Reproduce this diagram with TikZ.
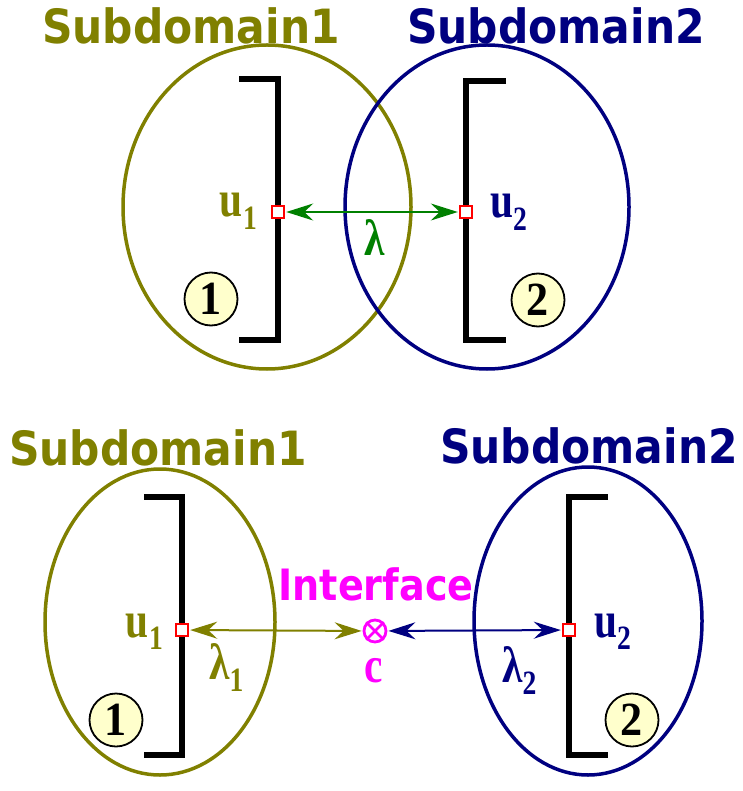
\documentclass[tikz,border=0pt]{standalone}
\usepackage{fontspec}
\usetikzlibrary{arrows.meta}
\newfontfamily\headfont{DejaVu Sans}
\newfontfamily\serifb{Liberation Serif}
\definecolor{olivec}{HTML}{808000}
\definecolor{navyc}{HTML}{000080}
\definecolor{greenc}{HTML}{008000}
\definecolor{magc}{HTML}{FF00FF}
\definecolor{yelc}{HTML}{FFFFCC}
\tikzset{
  head/.style={inner sep=0},
  lab/.style={inner sep=0},
  dom/.style={line width=3.5pt},
  brk/.style={line width=5.5pt, black},
  port/.style={draw=red, fill=white, rectangle, minimum size=12pt, inner sep=0, line width=2.4pt},
  numc/.style={circle, draw=black, fill=yelc, minimum size=53pt, inner sep=0, line width=1.8pt},
  dbl/.style={line width=2pt, {Stealth[length=27pt,width=17pt,inset=9pt]}-{Stealth[length=27pt,width=17pt,inset=9pt]}, shorten <=1pt, shorten >=1pt},
}
\newcommand{\hd}[1]{\scalebox{1.06}[1.18]{\headfont\bfseries\fontsize{40}{40}\selectfont #1}}
\newcommand{\lb}[2]{\scalebox{1.15}[1.42]{\serifb\bfseries\fontsize{36}{36}\selectfont #1\raisebox{-9pt}{\fontsize{24}{24}\selectfont #2}}}
\newcommand{\nm}[1]{\scalebox{1.3}[1.4]{\serifb\bfseries\fontsize{34}{34}\selectfont #1}}
\begin{document}
\begin{tikzpicture}[x=1pt,y=-1pt]
\useasboundingbox (0,0) rectangle (742,791);
% ---------- top ----------
\node[head, text=olivec] (h1) at (191,26) {\hd{Subdomain1}};
\node[head, text=navyc] (h2) at (556,26) {\hd{Subdomain2}};
\draw[dom, draw=olivec] (267,207) ellipse [x radius=144pt, y radius=162pt];
\draw[dom, draw=navyc] (487,207) ellipse [x radius=142pt, y radius=162pt];
\draw[brk] (239,79) -- (278,79) -- (278,340) -- (239,340);
\draw[brk] (506,81) -- (466,81) -- (466,340) -- (506,340);
\node[port] (p1) at (278,212) {};
\node[port] (p2) at (466,212) {};
\draw[dbl, greenc] (p1) -- (p2);
\node[lab, text=olivec, anchor=base east] (u1) at (257,217) {\lb{u}{1}};
\node[lab, text=navyc, anchor=base west] (u2) at (490,218) {\lb{u}{2}};
\node[lab, text=greenc, anchor=base west] (lam) at (364,255) {\lb{λ}{}};
\node[numc] (n1) at (211,299) {\nm{1}};
\node[numc] (n2) at (538,300) {\nm{2}};
% ---------- bottom ----------
\node[head, text=olivec] (h3) at (158,448) {\hd{Subdomain1}};
\node[head, text=navyc] (h4) at (589,446) {\hd{Subdomain2}};
\draw[dom, draw=olivec] (160,622) ellipse [x radius=115pt, y radius=153pt];
\draw[dom, draw=navyc] (588,621) ellipse [x radius=114pt, y radius=154pt];
\draw[brk] (144,497) -- (182,497) -- (182,755) -- (144,755);
\draw[brk] (608,497) -- (569,497) -- (569,755) -- (608,755);
\node[port] (p3) at (182,630) {};
\node[port] (p4) at (569,630) {};
\node[circle, draw=magc, line width=2.8pt, minimum size=22pt, inner sep=0] (cx) at (375,631) {};
\draw[magc, line width=2.8pt] (cx.45) -- (cx.225) (cx.135) -- (cx.315);
\draw[dbl, olivec] (p3) -- (cx);
\draw[dbl, navyc] (cx) -- (p4);
\node[inner sep=0, text=magc] (itf) at (376,584) {\scalebox{1.06}[1.2]{\headfont\bfseries\fontsize{36}{36}\selectfont Interface}};
\node[lab, text=magc, anchor=base] (c) at (374,682) {\lb{c}{}};
\node[lab, text=olivec, anchor=base east] (u3) at (163,637) {\lb{u}{1}};
\node[lab, text=navyc, anchor=base west] (u4) at (594,637) {\lb{u}{2}};
\node[lab, text=olivec, anchor=base west] (l1) at (209,679) {\lb{λ}{1}};
\node[lab, text=navyc, anchor=base west] (l2) at (502,682) {\lb{λ}{2}};
\node[numc] (n3) at (116,720) {\nm{1}};
\node[numc] (n4) at (632,720) {\nm{2}};
\end{tikzpicture}
\end{document}
